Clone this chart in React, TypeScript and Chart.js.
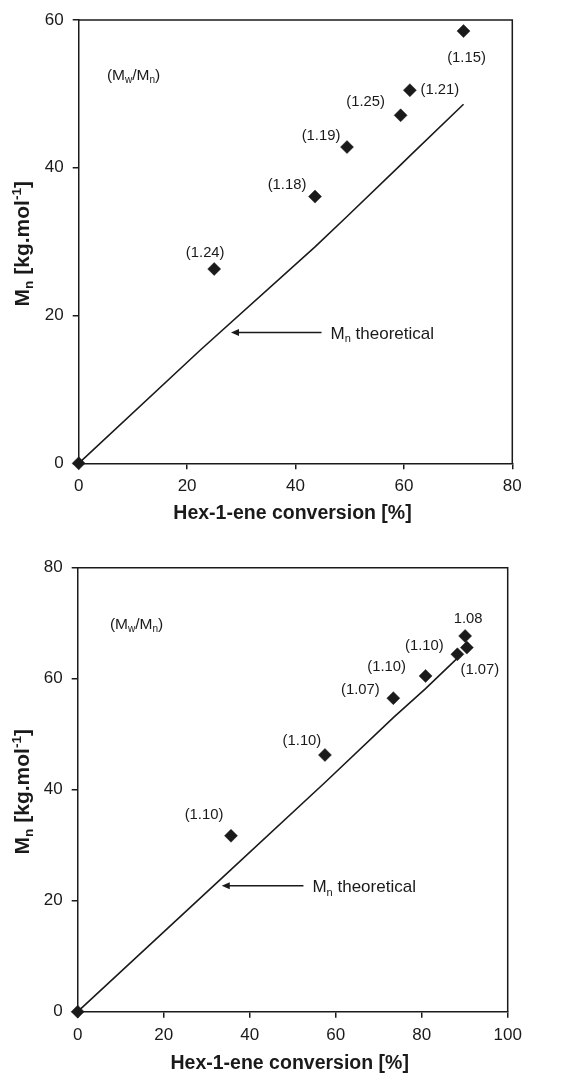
import React, { useEffect, useRef } from 'react';
import { Chart, registerables } from 'chart.js';

Chart.register(...registerables);

// ---------- Data: top panel ----------
const topConversion = [0, 25.0, 43.6, 49.5, 59.4, 61.1, 71.0];
const topMn = [0, 26.3, 36.1, 42.8, 47.1, 50.5, 58.5];
const topPdiLabels = ['', '(1.24)', '(1.18)', '(1.19)', '(1.25)', '(1.21)', '(1.15)'];
const topTheoConversion = [0, 22.4, 43.6, 49.5, 59.4, 61.1, 71.0];
const topTheoMn = [0, 15.3, 29.3, 33.4, 40.4, 41.6, 48.6];
const topXTicks = [0, 20, 40, 60, 80];
const topYTicks = [0, 20, 40, 60];

// ---------- Data: bottom panel ----------
const botConversion = [0, 35.65, 57.5, 73.4, 80.9, 88.3, 90.1, 90.5];
const botMn = [0, 31.7, 46.25, 56.5, 60.5, 64.4, 67.7, 65.6];
const botPdiLabels = ['', '(1.10)', '(1.10)', '(1.07)', '(1.10)', '(1.10)', '1.08', '(1.07)'];
const botTheoConversion = [0, 35.65, 57.5, 73.4, 80.9, 88.3];
const botTheoMn = [0, 25.6, 41.3, 53.0, 58.2, 63.7];
const botXTicks = [0, 20, 40, 60, 80, 100];
const botYTicks = [0, 20, 40, 60, 80];

// ---------- Layout (pixel offsets of labels from their points, etc.) ----------
const topLabelOffsets = [[0, 0], [-9, -16], [-28, -12], [-26, -11], [-35, -13], [30, 0], [3, 27]];
const botLabelOffsets = [[0, 0], [-27, -21], [-23, -14], [-33, -8], [-39, -9], [-33, -8], [3, -17], [13, 22]];

const FONT = '"Liberation Sans", Arial, Helvetica, sans-serif';
const INK = '#1a1a1a';

type Seg = { t: string; k?: 'sub' | 'sup' };

function segWidth(ctx: CanvasRenderingContext2D, segs: Seg[], size: number, weight: string) {
  let w = 0;
  for (const s of segs) {
    const fs = s.k ? size * 0.65 : size;
    ctx.font = `${weight} ${fs}px ${FONT}`;
    w += ctx.measureText(s.t).width;
  }
  return w;
}

function drawRich(
  ctx: CanvasRenderingContext2D,
  x: number,
  y: number,
  segs: Seg[],
  size: number,
  weight: string,
  align: 'left' | 'center'
) {
  const total = segWidth(ctx, segs, size, weight);
  let cx = align === 'center' ? x - total / 2 : x;
  ctx.textAlign = 'left';
  ctx.textBaseline = 'alphabetic';
  const base = y + size * 0.36;
  for (const s of segs) {
    const fs = s.k ? size * 0.65 : size;
    ctx.font = `${weight} ${fs}px ${FONT}`;
    const dy = s.k === 'sub' ? size * 0.22 : s.k === 'sup' ? -size * 0.38 : 0;
    ctx.fillText(s.t, cx, base + dy);
    cx += ctx.measureText(s.t).width;
  }
}

type PanelCfg = {
  xMax: number;
  yMax: number;
  xTicks: number[];
  yTicks: number[];
  conv: number[];
  mn: number[];
  theoX: number[];
  theoY: number[];
  labels: string[];
  offsets: number[][];
  ratioPos: [number, number];
  arrowFrom: [number, number];
  arrowTo: number;
  width: number;
  height: number;
  padTop: number;
  padRight: number;
  yWidth: number;
  xHeight: number;
  xTitleDy: number;
};

function makeChart(canvas: HTMLCanvasElement, p: PanelCfg) {
  const annot = {
    id: 'annot',
    beforeDatasetsDraw(chart: any) {
      const { ctx, chartArea: a } = chart;
      ctx.save();
      ctx.strokeStyle = INK;
      ctx.lineWidth = 1.5;
      ctx.beginPath();
      ctx.moveTo(a.left, a.top);
      ctx.lineTo(a.right, a.top);
      ctx.lineTo(a.right, a.bottom);
      ctx.stroke();
      ctx.restore();
    },
    afterDraw(chart: any) {
      const { ctx, chartArea: a } = chart;
      const xs = chart.scales.x;
      const ys = chart.scales.y;
      ctx.save();
      ctx.fillStyle = INK;
      // point labels
      p.labels.forEach((lab, i) => {
        if (!lab) return;
        const px = xs.getPixelForValue(p.conv[i]) + p.offsets[i][0];
        const py = ys.getPixelForValue(p.mn[i]) + p.offsets[i][1];
        ctx.font = `14.8px ${FONT}`;
        ctx.textAlign = 'center';
        ctx.textBaseline = 'middle';
        ctx.fillText(lab, px, py);
      });
      // (Mw/Mn)
      drawRich(
        ctx,
        xs.getPixelForValue(p.ratioPos[0]),
        ys.getPixelForValue(p.ratioPos[1]),
        [{ t: '(M' }, { t: 'w', k: 'sub' }, { t: '/M' }, { t: 'n', k: 'sub' }, { t: ')' }],
        15.5,
        'normal',
        'left'
      );
      // arrow
      const ay = ys.getPixelForValue(p.arrowFrom[1]);
      const ax0 = xs.getPixelForValue(p.arrowFrom[0]);
      const ax1 = xs.getPixelForValue(p.arrowTo);
      ctx.strokeStyle = INK;
      ctx.lineWidth = 1.5;
      ctx.beginPath();
      ctx.moveTo(ax0, ay);
      ctx.lineTo(ax1 + 5, ay);
      ctx.stroke();
      ctx.beginPath();
      ctx.moveTo(ax1, ay);
      ctx.lineTo(ax1 + 8, ay - 3.5);
      ctx.lineTo(ax1 + 8, ay + 3.5);
      ctx.closePath();
      ctx.fill();
      drawRich(
        ctx,
        ax0 + 9,
        ay,
        [{ t: 'M' }, { t: 'n', k: 'sub' }, { t: ' theoretical' }],
        17,
        'normal',
        'left'
      );
      // x title
      ctx.fillStyle = INK;
      ctx.font = `bold 19.5px ${FONT}`;
      ctx.textAlign = 'center';
      ctx.textBaseline = 'middle';
      ctx.fillText('Hex-1-ene conversion [%]', (a.left + a.right) / 2 - 3, a.bottom + p.xTitleDy);
      // y title (rotated)
      ctx.save();
      ctx.translate(22, (a.top + a.bottom) / 2 + 2);
      ctx.rotate(-Math.PI / 2);
      drawRich(
        ctx,
        0,
        -1,
        [{ t: 'M' }, { t: 'n', k: 'sub' }, { t: ' [kg.mol' }, { t: '-1', k: 'sup' }, { t: ']' }],
        21,
        'bold',
        'center'
      );
      ctx.restore();
      ctx.restore();
    },
  };

  const tickFont = { family: FONT, size: 17 };

  return new Chart(canvas, {
    type: 'scatter',
    data: {
      datasets: [
        {
          label: 'theoretical',
          data: p.theoX.map((x, i) => ({ x, y: p.theoY[i] })),
          showLine: true,
          borderColor: INK,
          borderWidth: 1.6,
          pointRadius: 0,
          tension: 0,
          clip: false,
        } as any,
        {
          label: 'experimental',
          data: p.conv.map((x, i) => ({ x, y: p.mn[i] })),
          showLine: false,
          pointStyle: 'rectRot',
          pointRadius: 6.5,
          backgroundColor: INK,
          borderColor: INK,
          borderWidth: 0.5,
          clip: false,
        } as any,
      ],
    },
    options: {
      animation: false,
      responsive: false,
      maintainAspectRatio: false,
      devicePixelRatio: 1,
      layout: { padding: { left: 0, top: p.padTop, right: p.padRight, bottom: 0 } },
      plugins: { legend: { display: false }, tooltip: { enabled: false } },
      scales: {
        x: {
          type: 'linear',
          min: 0,
          max: p.xMax,
          afterBuildTicks: (s: any) => {
            s.ticks = p.xTicks.map((v) => ({ value: v }));
          },
          ticks: { font: tickFont, color: INK, padding: 7, maxRotation: 0 },
          grid: { drawOnChartArea: false, drawTicks: true, tickLength: 6, color: INK, lineWidth: 1.5 },
          border: { display: true, color: INK, width: 1.5 },
          afterFit: (s: any) => {
            s.height = p.xHeight;
          },
        },
        y: {
          type: 'linear',
          min: 0,
          max: p.yMax,
          afterBuildTicks: (s: any) => {
            s.ticks = p.yTicks.map((v) => ({ value: v }));
          },
          ticks: { font: tickFont, color: INK, padding: 9 },
          grid: { drawOnChartArea: false, drawTicks: true, tickLength: 6, color: INK, lineWidth: 1.5 },
          border: { display: true, color: INK, width: 1.5 },
          afterFit: (s: any) => {
            s.width = p.yWidth;
          },
        },
      },
    } as any,
    plugins: [annot],
  });
}

const topCfg: PanelCfg = {
  xMax: 80,
  yMax: 60,
  xTicks: topXTicks,
  yTicks: topYTicks,
  conv: topConversion,
  mn: topMn,
  theoX: topTheoConversion,
  theoY: topTheoMn,
  labels: topPdiLabels,
  offsets: topLabelOffsets,
  ratioPos: [5.2, 52.7],
  arrowFrom: [44.8, 17.7],
  arrowTo: 28.1,
  width: 564,
  height: 535,
  padTop: 20,
  padRight: 51.7,
  yWidth: 78.7,
  xHeight: 71.7,
  xTitleDy: 50,
};

const botCfg: PanelCfg = {
  xMax: 100,
  yMax: 80,
  xTicks: botXTicks,
  yTicks: botYTicks,
  conv: botConversion,
  mn: botMn,
  theoX: botTheoConversion,
  theoY: botTheoMn,
  labels: botPdiLabels,
  offsets: botLabelOffsets,
  ratioPos: [7.5, 70],
  arrowFrom: [52.5, 22.7],
  arrowTo: 33.5,
  width: 564,
  height: 540,
  padTop: 32.7,
  padRight: 56.3,
  yWidth: 77.7,
  xHeight: 63.3,
  xTitleDy: 51.6,
};

function Panel({ cfg, top }: { cfg: PanelCfg; top: number }) {
  const ref = useRef<HTMLCanvasElement>(null);
  useEffect(() => {
    if (!ref.current) return;
    const ch = makeChart(ref.current, cfg);
    return () => ch.destroy();
  }, [cfg]);
  return (
    <canvas
      ref={ref}
      width={cfg.width}
      height={cfg.height}
      style={{ position: 'absolute', left: 0, top, width: cfg.width, height: cfg.height }}
    />
  );
}

export default function App() {
  return (
    <div style={{ position: 'absolute', left: 0, top: 0, width: 564, height: 1075, background: '#fff' }}>
      <Panel cfg={topCfg} top={0} />
      <Panel cfg={botCfg} top={535} />
    </div>
  );
}
